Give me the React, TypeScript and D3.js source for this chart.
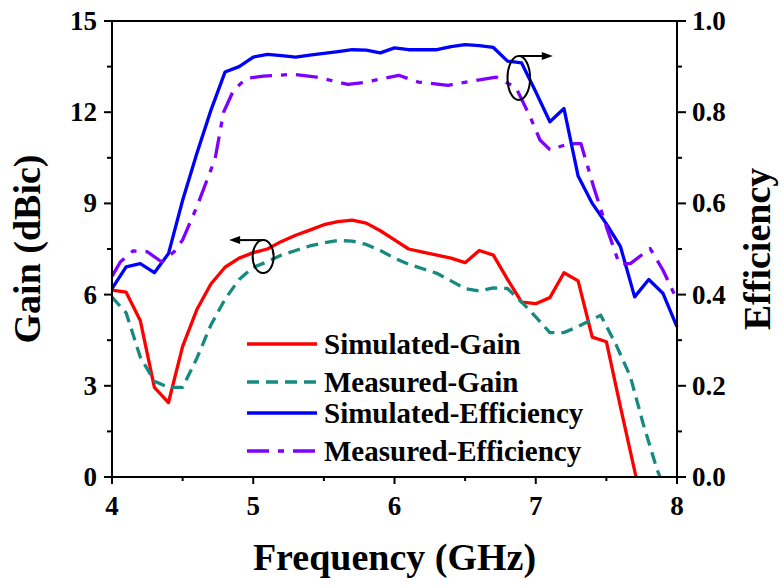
import React from "react";
import * as d3 from "d3";

// Frequency (GHz), value pairs
const simGain: [number, number][] = [
  [4.0, 6.15], [4.1, 6.08], [4.2, 5.15], [4.3, 2.95], [4.4, 2.45], [4.5, 4.3],
  [4.6, 5.5], [4.7, 6.35], [4.8, 6.9], [4.9, 7.2], [5.0, 7.38], [5.1, 7.5],
  [5.2, 7.75], [5.3, 7.95], [5.4, 8.12], [5.5, 8.3], [5.6, 8.4], [5.7, 8.45],
  [5.8, 8.35], [5.9, 8.1], [6.0, 7.8], [6.1, 7.5], [6.2, 7.4], [6.3, 7.3],
  [6.4, 7.2], [6.5, 7.05], [6.6, 7.45], [6.7, 7.3], [6.8, 6.5], [6.9, 5.75],
  [7.0, 5.7], [7.1, 5.9], [7.2, 6.72], [7.3, 6.45], [7.4, 4.6], [7.5, 4.45],
  [7.6, 2.3], [7.71, 0],
];

const measGain: [number, number][] = [
  [4.0, 5.92], [4.1, 5.4], [4.2, 3.95], [4.3, 3.15], [4.4, 2.95], [4.5, 2.95],
  [4.6, 3.9], [4.7, 5.0], [4.8, 5.85], [4.9, 6.5], [5.0, 6.9], [5.1, 7.08],
  [5.2, 7.3], [5.3, 7.45], [5.4, 7.6], [5.5, 7.7], [5.6, 7.78], [5.7, 7.76],
  [5.8, 7.65], [5.9, 7.45], [6.0, 7.2], [6.1, 7.0], [6.2, 6.85], [6.3, 6.7],
  [6.4, 6.45], [6.5, 6.2], [6.6, 6.12], [6.7, 6.22], [6.8, 6.2], [6.9, 5.75],
  [7.0, 5.27], [7.1, 4.75], [7.2, 4.75], [7.3, 4.95], [7.46, 5.32], [7.57, 4.34],
  [7.67, 3.3], [7.76, 1.76], [7.86, 0.23], [7.88, 0],
];

const simEff: [number, number][] = [
  [4.0, 0.413], [4.1, 0.461], [4.2, 0.468], [4.3, 0.448], [4.4, 0.49], [4.5, 0.607],
  [4.6, 0.709], [4.7, 0.804], [4.8, 0.888], [4.9, 0.9], [5.0, 0.921], [5.1, 0.927],
  [5.2, 0.924], [5.3, 0.921], [5.4, 0.925], [5.5, 0.929], [5.6, 0.933], [5.7, 0.937],
  [5.8, 0.936], [5.9, 0.93], [6.0, 0.941], [6.1, 0.937], [6.2, 0.937], [6.3, 0.937],
  [6.4, 0.944], [6.5, 0.948], [6.6, 0.946], [6.7, 0.942], [6.8, 0.912], [6.9, 0.908],
  [7.0, 0.845], [7.1, 0.779], [7.2, 0.808], [7.3, 0.66], [7.4, 0.6], [7.5, 0.555],
  [7.6, 0.505], [7.7, 0.395], [7.8, 0.433], [7.9, 0.403], [8.0, 0.329],
];

const measEff: [number, number][] = [
  [4.0, 0.44], [4.06, 0.472], [4.15, 0.496], [4.25, 0.494], [4.35, 0.472], [4.44, 0.494],
  [4.5, 0.52], [4.6, 0.592], [4.73, 0.698], [4.79, 0.8], [4.86, 0.848], [4.95, 0.874],
  [5.07, 0.879], [5.28, 0.883], [5.45, 0.877], [5.67, 0.861], [5.8, 0.866], [6.03, 0.881],
  [6.17, 0.866], [6.38, 0.859], [6.58, 0.87], [6.72, 0.877], [6.86, 0.854], [6.96, 0.79],
  [7.03, 0.739], [7.1, 0.718], [7.24, 0.731], [7.32, 0.731], [7.41, 0.636], [7.5, 0.549],
  [7.59, 0.468], [7.67, 0.468], [7.81, 0.501], [7.9, 0.454], [7.99, 0.395],
];

const xTicks = [4, 5, 6, 7, 8];
const xMinor = [4.5, 5.5, 6.5, 7.5];
const gainTicks = [0, 3, 6, 9, 12, 15];
const gainMinor = [1.5, 4.5, 7.5, 10.5, 13.5];
const effTicks = [0, 0.2, 0.4, 0.6, 0.8, 1.0];
const effMinor = [0.1, 0.3, 0.5, 0.7, 0.9];

const legendItems = [
  { label: "Simulated-Gain", color: "#ff0000", dash: "none" },
  { label: "Measured-Gain", color: "#168a80", dash: "12,7" },
  { label: "Simulated-Efficiency", color: "#0000ff", dash: "none" },
  { label: "Measured-Efficiency", color: "#7f00ff", dash: "22,9,6,9" },
];

const font = "'Liberation Serif', 'Times New Roman', serif";

export default function App() {
  const left = 112, right = 677, top = 21, bottom = 477;

  const x = d3.scaleLinear().domain([4, 8]).range([left, right]);
  const yG = d3.scaleLinear().domain([0, 15]).range([bottom, top]);
  const yE = d3.scaleLinear().domain([0, 1]).range([bottom, top]);

  const lineG = d3.line<[number, number]>().x((d) => x(d[0])).y((d) => yG(d[1]));
  const lineE = d3.line<[number, number]>().x((d) => x(d[0])).y((d) => yE(d[1]));

  const series = [
    { d: lineG(simGain), ...legendItems[0] },
    { d: lineG(measGain), ...legendItems[1] },
    { d: lineE(simEff), ...legendItems[2] },
    { d: lineE(measEff), ...legendItems[3] },
  ];

  // annotation ellipses with arrows pointing to their axis
  const ann1 = { cx: x(5.07), cy: yG(7.25), rx: 10.5, ry: 16.5, dir: -1 };
  const ann2 = { cx: x(6.88), cy: yE(0.875), rx: 11.3, ry: 22, dir: 1 };

  return (
    <svg width={784} height={588} style={{ position: "absolute", left: 0, top: 0, background: "#fff" }}>
      <g fill="none" strokeWidth={3.3} strokeLinejoin="round">
        {series.map((s, i) => (
          <path key={i} d={s.d || ""} stroke={s.color} strokeDasharray={s.dash} />
        ))}
      </g>

      {[ann1, ann2].map((a, i) => {
        const ay = a.cy - a.ry;
        const tip = a.cx + a.dir * 34;
        return (
          <g key={i}>
            <ellipse cx={a.cx} cy={a.cy} rx={a.rx} ry={a.ry} fill="none" stroke="#000" strokeWidth={2} />
            <line x1={a.cx} y1={ay} x2={tip - a.dir * 8} y2={ay} stroke="#000" strokeWidth={2} />
            <path d={`M${tip},${ay} L${tip - a.dir * 11},${ay - 4} L${tip - a.dir * 11},${ay + 4} Z`} fill="#000" />
          </g>
        );
      })}

      {/* frame */}
      <rect x={left} y={top} width={right - left} height={bottom - top} fill="none" stroke="#000" strokeWidth={2} />

      {/* bottom axis */}
      {xTicks.map((t) => (
        <g key={"x" + t}>
          <line x1={x(t)} x2={x(t)} y1={bottom} y2={bottom + 7} stroke="#000" strokeWidth={2} />
          <text x={x(t)} y={515} textAnchor="middle" fontFamily={font} fontWeight="bold" fontSize={27}>{t}</text>
        </g>
      ))}
      {xMinor.map((t) => (
        <line key={"xm" + t} x1={x(t)} x2={x(t)} y1={bottom} y2={bottom + 4} stroke="#000" strokeWidth={2} />
      ))}

      {/* left axis */}
      {gainTicks.map((t) => (
        <g key={"g" + t}>
          <line x1={left - 8} x2={left} y1={yG(t)} y2={yG(t)} stroke="#000" strokeWidth={2} />
          <text x={97} y={yG(t) + 9} textAnchor="end" fontFamily={font} fontWeight="bold" fontSize={27}>{t}</text>
        </g>
      ))}
      {gainMinor.map((t) => (
        <line key={"gm" + t} x1={left - 5} x2={left} y1={yG(t)} y2={yG(t)} stroke="#000" strokeWidth={2} />
      ))}

      {/* right axis */}
      {effTicks.map((t) => (
        <g key={"e" + t}>
          <line x1={right} x2={right + 9} y1={yE(t)} y2={yE(t)} stroke="#000" strokeWidth={2} />
          <text x={692} y={yE(t) + 9} fontFamily={font} fontWeight="bold" fontSize={27}>{t.toFixed(1)}</text>
        </g>
      ))}
      {effMinor.map((t) => (
        <line key={"em" + t} x1={right} x2={right + 5} y1={yE(t)} y2={yE(t)} stroke="#000" strokeWidth={2} />
      ))}

      {/* titles */}
      <text x={(left + right) / 2} y={570} textAnchor="middle" fontFamily={font} fontWeight="bold" fontSize={38}>
        Frequency (GHz)
      </text>
      <text transform={`translate(40,${(top + bottom) / 2}) rotate(-90)`} textAnchor="middle" fontFamily={font} fontWeight="bold" fontSize={38}>
        Gain (dBic)
      </text>
      <text transform={`translate(770,${(top + bottom) / 2}) rotate(-90)`} textAnchor="middle" fontFamily={font} fontWeight="bold" fontSize={38}>
        Efficiency
      </text>

      {/* legend */}
      {legendItems.map((l, i) => {
        const ly = [344, 382, 413, 451][i];
        return (
          <g key={l.label}>
            <line x1={247} x2={317} y1={ly} y2={ly} stroke={l.color} strokeWidth={3.5} strokeDasharray={l.dash} />
            <text x={324} y={ly + 10} fontFamily={font} fontWeight="bold" fontSize={29}>{l.label}</text>
          </g>
        );
      })}
    </svg>
  );
}
